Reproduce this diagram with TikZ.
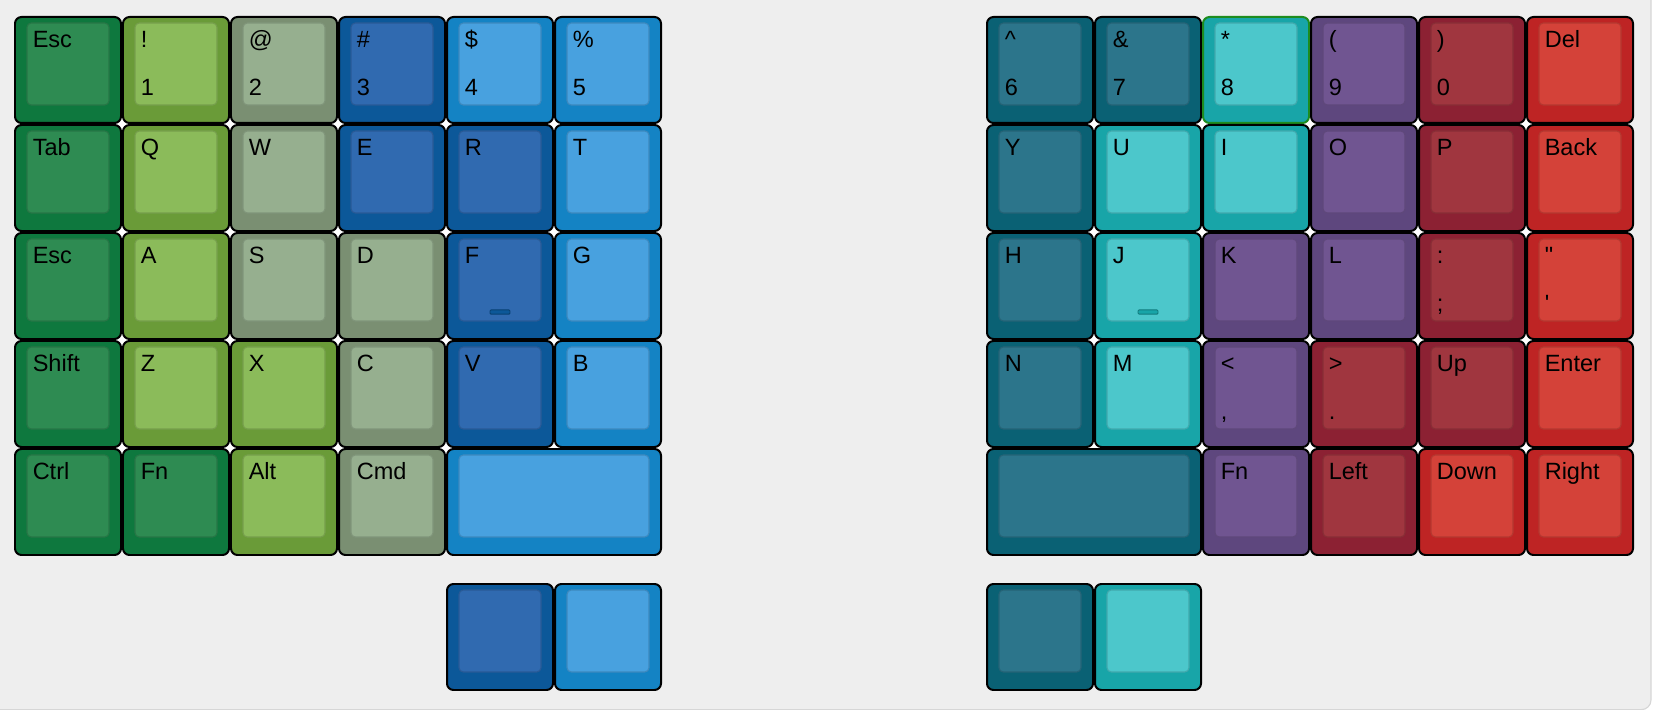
\documentclass[tikz,border=0pt]{standalone}
\usepackage{fontspec}
\setmainfont{Liberation Sans}
\usepackage{tikz}
\usetikzlibrary{positioning}

% key colours: outer rim / top cap
\definecolor{gAout}{HTML}{0E783E}\definecolor{gAin}{HTML}{2E8B52}
\definecolor{gBout}{HTML}{6A9B38}\definecolor{gBin}{HTML}{8BBB5A}
\definecolor{gCout}{HTML}{7A8F72}\definecolor{gCin}{HTML}{96AF8F}
\definecolor{bAout}{HTML}{0C5899}\definecolor{bAin}{HTML}{306AB0}
\definecolor{bBout}{HTML}{1483C4}\definecolor{bBin}{HTML}{48A1DF}
\definecolor{tAout}{HTML}{0A6174}\definecolor{tAin}{HTML}{2C758B}
\definecolor{tBout}{HTML}{18A5A8}\definecolor{tBin}{HTML}{4CC7CB}
\definecolor{pAout}{HTML}{5E477E}\definecolor{pAin}{HTML}{705591}
\definecolor{rAout}{HTML}{8C2133}\definecolor{rAin}{HTML}{A0363F}
\definecolor{rBout}{HTML}{BE2424}\definecolor{rBin}{HTML}{D44239}
\definecolor{panelgray}{HTML}{EEEEEE}
\definecolor{panelrim}{HTML}{D6D6D6}
\definecolor{keyeight}{HTML}{1E8C1E}

% \kbkey[extra]{col}{row}{width}{colour}{top label}{bottom label}
\newcommand{\kbkey}[7][]{%
  \node[keyouter, fill=#5out, minimum width={#4cm-0.0185cm}, #1] (key-#2-#3) at (#2+0.0093,#3+0.0093) {};
  \node[keyinner, fill=#5in, draw=#5in!85!black, minimum width={#4cm-0.2407cm}] (cap-#2-#3) at (#2+0.1204,#3+0.0648) {};
  \node[keylabel] (top-#2-#3) at (#2+0.1667,#3+0.2963) {#6};
  \node[keylabel] (bot-#2-#3) at (#2+0.1667,#3+0.7407) {#7};
}

\begin{document}
\begin{tikzpicture}[
    x=1cm, y=-1cm,
    keyouter/.style={rectangle, draw=black, line width=0.525pt, rounded corners=0.06cm, minimum height=0.9815cm, inner sep=0pt, outer sep=0pt, anchor=north west},
    keyinner/.style={rectangle, line width=0.3pt, rounded corners=0.04cm, minimum height=0.7593cm, inner sep=0pt, outer sep=0pt, anchor=north west},
    keylabel/.style={anchor=base west, inner sep=0pt, font=\fontsize{6.2}{7.4}\selectfont},
    homebar/.style={rectangle, line width=0.25pt, rounded corners=0.01cm, minimum width=0.185cm, minimum height=0.04cm, inner sep=0pt}
]
\useasboundingbox (0,0) rectangle (15.3148,6.5741);
\clip (0,0) rectangle (15.3148,6.5741);
\fill[white] (0,0) rectangle (15.3148,6.5741);

% Panel
\draw[fill=panelgray, draw=panelrim, line width=0.3pt, rounded corners=0.09cm] (-0.3,-0.3) rectangle (15.287,6.571);

\begin{scope}[shift={(0.1296,0.1481)}]

% gaps between key corners
\fill[white] (0.06,0.06) rectangle (5.94,4.94);
\fill[white] (9.06,0.06) rectangle (14.94,4.94);

% Left half - number row
\kbkey{0}{0}{1}{gA}{Esc}{}
\kbkey{1}{0}{1}{gB}{!}{1}
\kbkey{2}{0}{1}{gC}{@}{2}
\kbkey{3}{0}{1}{bA}{\#}{3}
\kbkey{4}{0}{1}{bB}{\$}{4}
\kbkey{5}{0}{1}{bB}{\%}{5}

% Left half - top row
\kbkey{0}{1}{1}{gA}{Tab}{}
\kbkey{1}{1}{1}{gB}{Q}{}
\kbkey{2}{1}{1}{gC}{W}{}
\kbkey{3}{1}{1}{bA}{E}{}
\kbkey{4}{1}{1}{bA}{R}{}
\kbkey{5}{1}{1}{bB}{T}{}

% Left half - home row
\kbkey{0}{2}{1}{gA}{Esc}{}
\kbkey{1}{2}{1}{gB}{A}{}
\kbkey{2}{2}{1}{gC}{S}{}
\kbkey{3}{2}{1}{gC}{D}{}
\kbkey{4}{2}{1}{bA}{F}{}
\kbkey{5}{2}{1}{bB}{G}{}
\node[homebar, fill=bAout, draw=bAout!75!black] (home-f) at (4.5,2.741) {};

% Left half - bottom row
\kbkey{0}{3}{1}{gA}{Shift}{}
\kbkey{1}{3}{1}{gB}{Z}{}
\kbkey{2}{3}{1}{gB}{X}{}
\kbkey{3}{3}{1}{gC}{C}{}
\kbkey{4}{3}{1}{bA}{V}{}
\kbkey{5}{3}{1}{bB}{B}{}

% Left half - modifier row
\kbkey{0}{4}{1}{gA}{Ctrl}{}
\kbkey{1}{4}{1}{gA}{Fn}{}
\kbkey{2}{4}{1}{gB}{Alt}{}
\kbkey{3}{4}{1}{gC}{Cmd}{}
\kbkey{4}{4}{2}{bB}{}{}

% Right half - number row
\kbkey{9}{0}{1}{tA}{\textasciicircum}{6}
\kbkey{10}{0}{1}{tA}{\&}{7}
\kbkey[draw=keyeight]{11}{0}{1}{tB}{*}{8}
\kbkey{12}{0}{1}{pA}{(}{9}
\kbkey{13}{0}{1}{rA}{)}{0}
\kbkey{14}{0}{1}{rB}{Del}{}

% Right half - top row
\kbkey{9}{1}{1}{tA}{Y}{}
\kbkey{10}{1}{1}{tB}{U}{}
\kbkey{11}{1}{1}{tB}{I}{}
\kbkey{12}{1}{1}{pA}{O}{}
\kbkey{13}{1}{1}{rA}{P}{}
\kbkey{14}{1}{1}{rB}{Back}{}

% Right half - home row
\kbkey{9}{2}{1}{tA}{H}{}
\kbkey{10}{2}{1}{tB}{J}{}
\kbkey{11}{2}{1}{pA}{K}{}
\kbkey{12}{2}{1}{pA}{L}{}
\kbkey{13}{2}{1}{rA}{:}{;}
\kbkey{14}{2}{1}{rB}{\textquotedbl}{\textquotesingle}
\node[homebar, fill=tBout, draw=tBout!75!black] (home-j) at (10.5,2.741) {};

% Right half - bottom row
\kbkey{9}{3}{1}{tA}{N}{}
\kbkey{10}{3}{1}{tB}{M}{}
\kbkey{11}{3}{1}{pA}{<}{,}
\kbkey{12}{3}{1}{rA}{>}{.}
\kbkey{13}{3}{1}{rA}{Up}{}
\kbkey{14}{3}{1}{rB}{Enter}{}

% Right half - modifier row
\kbkey{9}{4}{2}{tA}{}{}
\kbkey{11}{4}{1}{pA}{Fn}{}
\kbkey{12}{4}{1}{rA}{Left}{}
\kbkey{13}{4}{1}{rB}{Down}{}
\kbkey{14}{4}{1}{rB}{Right}{}

% Thumb keys
\begin{scope}[yshift=-0.25cm]
\kbkey{4}{5}{1}{bA}{}{}
\kbkey{5}{5}{1}{bB}{}{}
\kbkey{9}{5}{1}{tA}{}{}
\kbkey{10}{5}{1}{tB}{}{}
\end{scope}

\end{scope}
\end{tikzpicture}
\end{document}
